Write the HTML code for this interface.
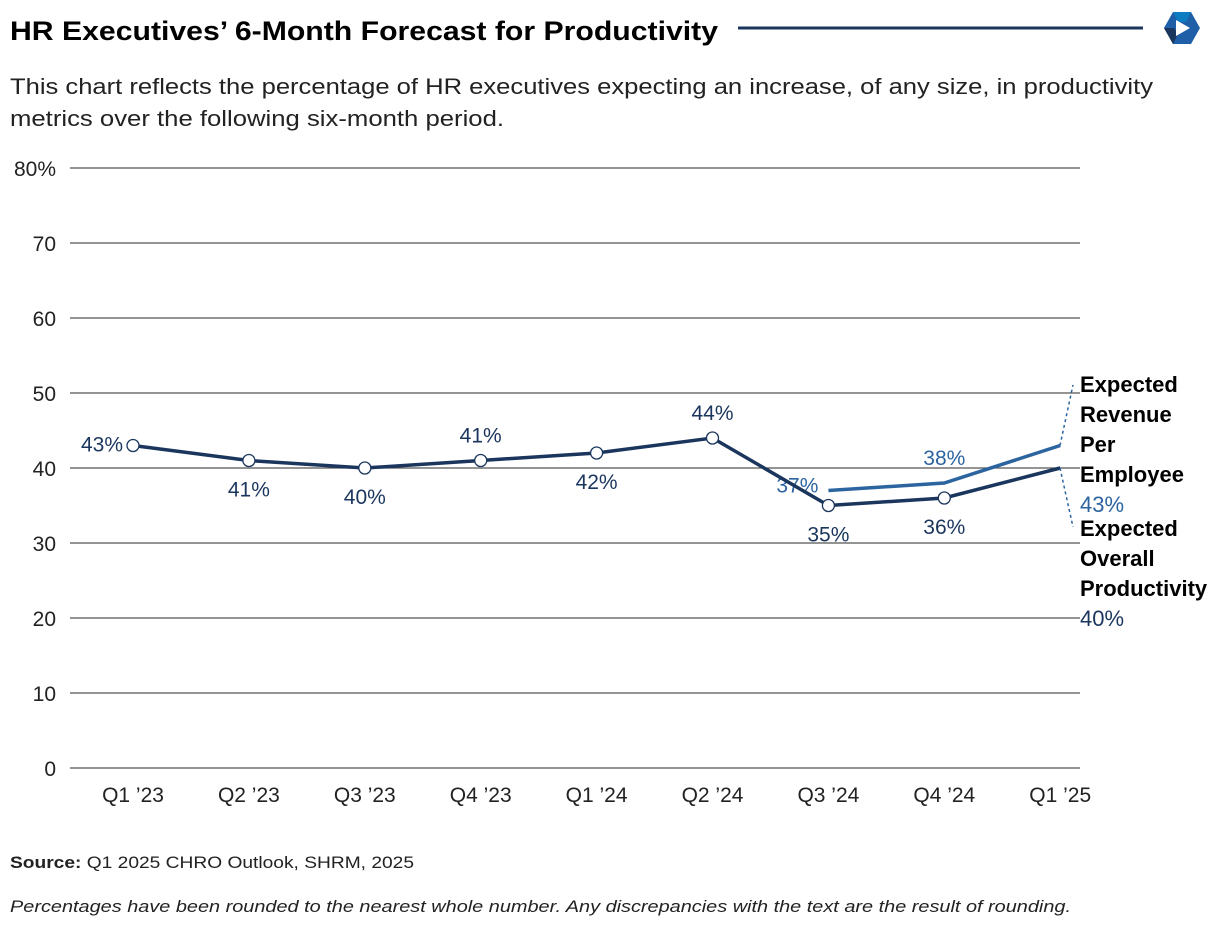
<!DOCTYPE html>
<html><head><meta charset="utf-8"><style>
body{margin:0;background:#fff;font-family:"Liberation Sans",sans-serif;}
#c{position:relative;width:1220px;height:928px;overflow:hidden}
</style></head><body><div id="c">
<svg width="1220" height="928" xmlns="http://www.w3.org/2000/svg" font-family="Liberation Sans, sans-serif">
<text x="10" y="40" font-size="27" font-weight="bold" fill="#000" textLength="708" lengthAdjust="spacingAndGlyphs">HR Executives’ 6-Month Forecast for Productivity</text>
<line x1="738" y1="28" x2="1143" y2="28" stroke="#1b365d" stroke-width="3"/>
<g transform="translate(1182,28)">
<polygon points="-9,-16 9,-16 18,0 9,16 -9,16 -18,0" fill="#1f5fa8"/>
<polygon points="-9,-16 9,-16 4,-6 -4,-6" fill="#0d7cc1"/>
<polygon points="-18,0 -9,16 -4,6 -8,0" fill="#1b365d"/>
<polygon points="-6,-8 8,0 -6,8" fill="#fff"/>
</g>
<text font-size="22" fill="#222"><tspan x="10" y="94" textLength="1143" lengthAdjust="spacingAndGlyphs">This chart reflects the percentage of HR executives expecting an increase, of any size, in productivity</tspan><tspan x="10" y="126" textLength="494" lengthAdjust="spacingAndGlyphs">metrics over the following six-month period.</tspan></text>
<g id="grid"></g><g id="marks"></g>
<text x="10" y="868" font-size="17" fill="#222" textLength="404" lengthAdjust="spacingAndGlyphs"><tspan font-weight="bold">Source:</tspan> Q1 2025 CHRO Outlook, SHRM, 2025</text>
<text x="10" y="912" font-size="17" font-style="italic" fill="#222" textLength="1061" lengthAdjust="spacingAndGlyphs">Percentages have been rounded to the nearest whole number. Any discrepancies with the text are the result of rounding.</text>
</svg></div>
<script>
const categories=["Q1 ’23","Q2 ’23","Q3 ’23","Q4 ’23","Q1 ’24","Q2 ’24","Q3 ’24","Q4 ’24","Q1 ’25"];
const overall=[43,41,40,41,42,44,35,36,40];
const revenue=[null,null,null,null,null,null,37,38,43];
const yTicks=[0,10,20,30,40,50,60,70,80];
const overallLabelPos=["left","below","below","above","below","above","below","below",null];
const revenueLabelPos=[null,null,null,null,null,null,"left","above",null];
const NS="http://www.w3.org/2000/svg";
const x=i=>133+i*115.9, y=v=>768-v*7.5;
function mk(t,a,p){const e=document.createElementNS(NS,t);for(const k in a)e.setAttribute(k,a[k]);p.appendChild(e);return e;}
const grid=document.getElementById('grid'),marks=document.getElementById('marks');
yTicks.forEach(t=>{
 const l=mk('line',{x1:70,x2:1080,y1:y(t),y2:y(t),stroke:'#555','stroke-width':1.3},grid);
 
 
 const tx=mk('text',{x:56,y:y(t)+8,'font-size':21,'text-anchor':'end',fill:'#222'},grid);
 tx.textContent=t===80?'80%':String(t);
 
 
});
categories.forEach((c,i)=>{
 const tx=mk('text',{x:x(i),y:802,'font-size':21,'text-anchor':'middle',fill:'#222'},grid);
 tx.textContent=c;
 
 
});
function series(vals,color,pos,name,circles){
 const pts=vals.map((v,i)=>v==null?null:[x(i),y(v)]).filter(p=>p);
 const pl=mk('polyline',{points:pts.map(p=>p.join(',')).join(' '),fill:'none',stroke:color,'stroke-width':3.5},marks);
 
 
 vals.forEach((v,i)=>{
  if(v==null)return;
  if(circles&&i<vals.length-1){
   const c=mk('circle',{cx:x(i),cy:y(v),r:6,fill:'#fff',stroke:color,'stroke-width':1.3},marks);
   
   
  }
  const p=pos[i];if(!p)return;
  let lx=x(i),ly=y(v),anchor='middle';
  if(p==='left'){lx-=10;ly+=6;anchor='end';if(name==='revenue')ly-=4;}
  else if(p==='below')ly+=36;else ly-=18;
  const t=mk('text',{x:lx,y:ly,'font-size':21,'text-anchor':anchor,fill:color},marks);
  t.textContent=v+'%';
  
  
 });
}
series(revenue,'#2c64a0',revenueLabelPos,'revenue',false);
series(overall,'#1b365d',overallLabelPos,'overall',true);
[ [1060,y(43),1073,385,'revenue'],[1060,y(40),1073,527,'overall'] ].forEach(d=>{
 const l=mk('line',{x1:d[0],y1:d[1],x2:d[2],y2:d[3],stroke:'#2c64a0','stroke-width':1.5,'stroke-dasharray':'3,3'},marks);
 
 
});
function lbl(lines,y0,val,color,name){
 const t=mk('text',{x:1080,'font-size':22,fill:'#000','font-weight':'bold'},marks);
 lines.forEach((s,k)=>{const ts=mk('tspan',{x:1080,y:y0+k*30},t);ts.textContent=s;});
 const v=mk('tspan',{x:1080,y:y0+lines.length*30,'font-weight':'normal',fill:color},t);v.textContent=val;
 
 
}
lbl(["Expected","Revenue","Per","Employee"],392,revenue[8]+'%','#2c64a0','revenue');
lbl(["Expected","Overall","Productivity"],536,overall[8]+'%','#1b365d','overall');
</script></body></html>
